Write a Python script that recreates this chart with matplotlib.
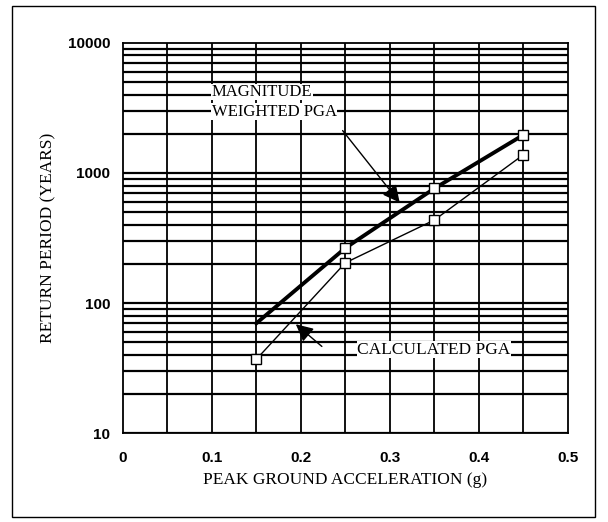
import matplotlib.pyplot as plt
from matplotlib.patches import Rectangle

# data
pga = [0.15, 0.25, 0.35, 0.45]
rp_weighted = [70, 265, 760, 1960]
rp_calculated = [37, 204, 435, 1380]

x_ticks = [0, 0.1, 0.2, 0.3, 0.4, 0.5]
x_tick_labels = ['0', '0.1', '0.2', '0.3', '0.4', '0.5']
y_ticks = [10, 100, 1000, 10000]
y_tick_labels = ['10', '100', '1000', '10000']

serif = 'Liberation Serif'
sans = 'Liberation Sans'

fig = plt.figure(figsize=(6.08, 5.22), dpi=100)
ax = fig.add_axes([0.202, 0.170, 0.732, 0.748])

ax.set_yscale('log')
ax.set_xlim(0, 0.5)
ax.set_ylim(10, 10000)

# grid: verticals every 0.05, horizontals on each decade and 2..9
for xv in [i * 0.05 for i in range(1, 10)]:
    ax.axvline(xv, color='black', lw=1.3, zorder=1)
for dec in [10, 100, 1000]:
    for m in range(1, 10):
        ax.axhline(dec * m, color='black', lw=1.6, zorder=1)

ax.plot(pga, rp_weighted, color='black', lw=2.8, marker='s', ms=7,
        mfc='white', mec='black', mew=1.0, markevery=[1, 2, 3], zorder=3)
ax.plot(pga, rp_calculated, color='black', lw=1.0, marker='s', ms=7,
        mfc='white', mec='black', mew=1.0, zorder=3)

# labels with arrows
box = dict(facecolor='white', edgecolor='none', pad=0.3)
ax.text(0.10, 4200, 'MAGNITUDE', family=serif, fontsize=12, va='center',
        ha='left', zorder=4, bbox=box)
ax.text(0.10, 2950, 'WEIGHTED PGA', family=serif, fontsize=12, va='center',
        ha='left', zorder=4, bbox=box)
ax.annotate('', xy=(0.313, 570), xytext=(0.245, 2200),
            arrowprops=dict(arrowstyle='-|>', color='black', lw=1.0,
                            mutation_scale=26), zorder=4)

ax.text(0.263, 44, 'CALCULATED PGA', family=serif, fontsize=12.5,
        va='center', ha='left', zorder=4, bbox=box)
ax.annotate('', xy=(0.192, 71), xytext=(0.226, 45),
            arrowprops=dict(arrowstyle='-|>', color='black', lw=1.0,
                            mutation_scale=26), zorder=4)

ax.set_xticks(x_ticks)
ax.set_xticklabels(x_tick_labels, family=sans, fontweight='bold', fontsize=11)
ax.set_yticks(y_ticks)
ax.set_yticklabels(y_tick_labels, family=sans, fontweight='bold', fontsize=11)
ax.yaxis.set_minor_locator(plt.NullLocator())
ax.tick_params(length=0, pad=13)
ax.tick_params(axis='y', pad=9)

ax.set_xlabel('PEAK GROUND ACCELERATION (g)', family=serif, fontsize=12.5,
              labelpad=5)
ax.set_ylabel('RETURN PERIOD (YEARS)', family=serif, fontsize=12.5,
              labelpad=8)

for sp in ax.spines.values():
    sp.set_linewidth(1.3)

# outer frame of the scanned figure
fig.patches.append(Rectangle((0.02, 0.01), 0.958, 0.978,
                             transform=fig.transFigure, fill=False,
                             edgecolor='black', lw=1.0))

plt.savefig('out.png', dpi=100)
